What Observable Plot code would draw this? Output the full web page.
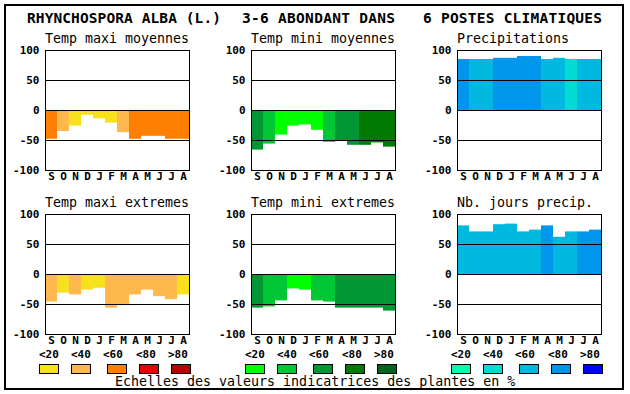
<!DOCTYPE html>
<html><head><meta charset="utf-8">
<script src="https://cdn.jsdelivr.net/npm/d3@7"></script>
<script src="https://cdn.jsdelivr.net/npm/@observablehq/plot@0.6"></script>
<style>
html,body{margin:0;padding:0;background:#fff;}
#wrap{position:relative;width:630px;height:394px;overflow:hidden;background:#fff;}
#wrap svg{position:absolute;overflow:visible;}
.box{position:absolute;left:4px;top:4px;width:620px;height:386px;border:2px solid #000;box-sizing:border-box;}
</style></head><body><div id="wrap"><div class="box"></div></div>
<script>
// ---- data ----
const months = ["S","O","N","D","J","F","M","A","M","J","J","A"];
const yTicks = [100, 50, 0, -50, -100];
const gridLevels = [50, 0, -50];
const classLabels = ["<20", "<40", "<60", "<80", ">80"];
const orangeScale = ["#f7e11c", "#ffb84d", "#ff8000", "#e60000", "#aa0a00"];
const greenScale  = ["#00ff00", "#00c834", "#009632", "#007a00", "#00641e"];
const blueScale   = ["#00ffae", "#00dcd2", "#00b8e0", "#0096eb", "#0000ff"];

const tempMaxiMoy      = [-48, -35, -26, -8, -14, -21, -37, -48, -43, -43, -48, -48];
const tempMaxiMoyClass = [3, 2, 1, 1, 1, 1, 2, 3, 3, 3, 3, 3];
const tempMiniMoy      = [-66, -56, -41, -26, -24, -33, -53, -51, -58, -58, -54, -61];
const tempMiniMoyClass = [3, 2, 1, 1, 1, 1, 2, 3, 3, 4, 4, 4];
const precip           = [85, 85, 85, 87, 87, 90, 90, 85, 87, 85, 85, 85];
const precipClass      = [4, 3, 3, 4, 4, 4, 4, 3, 3, 2, 3, 3];
const tempMaxiExt      = [-46, -31, -34, -26, -23, -56, -52, -34, -26, -37, -42, -34];
const tempMaxiExtClass = [2, 1, 2, 1, 1, 2, 2, 2, 2, 2, 2, 1];
const tempMiniExt      = [-56, -54, -44, -24, -26, -44, -46, -56, -56, -56, -56, -61];
const tempMiniExtClass = [3, 2, 2, 1, 1, 2, 2, 3, 3, 3, 3, 3];
const nbJours          = [81, 71, 71, 83, 84, 71, 74, 81, 62, 71, 71, 74];
const nbJoursClass     = [3, 3, 3, 3, 3, 3, 3, 4, 3, 3, 4, 4];

const headerParts = ["RHYNCHOSPORA ALBA (L.)", "3-6 ABONDANT DANS", "6 POSTES CLIMATIQUES"];
const panelTitles = ["Temp maxi moyennes", "Temp mini moyennes", "Precipitations",
                     "Temp maxi extremes", "Temp mini extremes", "Nb. jours precip."];
const caption = "Echelles des valeurs indicatrices des plantes en %";

// ---- layout ----
const wrap = document.getElementById("wrap");
const colLeft = [45, 251, 457];
const rowTop = [50, 214];
const frameW = 144, frameH = 120;
const mL = 45, mR = 6, mT = 10, mB = 16;
const monoFont = "'DejaVu Sans Mono', monospace";

const panels = [
  {values: tempMaxiMoy, classes: tempMaxiMoyClass, palette: orangeScale},
  {values: tempMiniMoy, classes: tempMiniMoyClass, palette: greenScale},
  {values: precip,      classes: precipClass,      palette: blueScale},
  {values: tempMaxiExt, classes: tempMaxiExtClass, palette: orangeScale},
  {values: tempMiniExt, classes: tempMiniExtClass, palette: greenScale},
  {values: nbJours,     classes: nbJoursClass,     palette: blueScale}
];

panels.forEach((p, k) => {
  const col = k % 3, row = Math.floor(k / 3);
  const data = p.values.map((v, i) => ({i, v, c: p.classes[i]}));
  const chart = Plot.plot({
    width: mL + frameW + mR,
    height: mT + frameH + mB,
    marginLeft: mL, marginRight: mR, marginTop: mT, marginBottom: mB,
    style: {fontFamily: monoFont, fontSize: "11px", fontWeight: "bold", color: "#000", background: "transparent"},
    x: {type: "band", domain: d3.range(12), padding: 0, label: null},
    y: {domain: [-100, 100], label: null},
    color: {type: "ordinal", domain: [1, 2, 3, 4, 5], range: p.palette},
    marks: [
      Plot.barY(data, {x: "i", y1: 0, y2: "v", fill: "c"}),
      Plot.ruleY(gridLevels, {stroke: "#000", strokeWidth: 1}),
      Plot.frame({stroke: "#000", strokeWidth: 1}),
      Plot.axisX({tickSize: 0, tickPadding: 2, tickFormat: i => months[i], fill: "#000", label: null}),
      Plot.axisY(yTicks, {tickSize: 0, tickPadding: 6, tickFormat: d => String(d), fill: "#000", label: null})
    ]
  });
  chart.style.left = (colLeft[col] - mL) + "px";
  chart.style.top = (rowTop[row] - mT) + "px";
  wrap.appendChild(chart);
});

// ---- overlay texts & legend ----
const svg = d3.select(wrap).append("svg")
  .attr("width", 630).attr("height", 394)
  .style("left", "0px").style("top", "0px")
  .style("pointer-events", "none");

const headerX = [27, 242, 423];
const headerLen = [194, 153, 179];
headerParts.forEach((t, i) => {
  svg.append("text").attr("x", headerX[i]).attr("y", 23)
    .attr("font-family", monoFont).attr("font-weight", "bold").attr("font-size", 14.5)
    .attr("textLength", headerLen[i]).attr("lengthAdjust", "spacing")
    .text(t);
});

panelTitles.forEach((t, k) => {
  const col = k % 3, row = Math.floor(k / 3);
  svg.append("text").attr("x", colLeft[col]).attr("y", row === 0 ? 43 : 207)
    .attr("font-family", monoFont).attr("font-size", 13.3)
    .text(t);
});

const legendLeft = [39, 245, 451];
const legendPalettes = [orangeScale, greenScale, blueScale];
legendLeft.forEach((gl, g) => {
  classLabels.forEach((lab, i) => {
    svg.append("text").attr("x", gl + 32 * i + (i >= 3 ? 1 : 0)).attr("y", 358)
      .attr("font-family", monoFont).attr("font-weight", "bold").attr("font-size", 11)
      .text(lab);
    svg.append("rect").attr("x", gl + 32 * i + (i >= 2 ? 4 : 0) + 0.5).attr("y", 364.5)
      .attr("width", 19).attr("height", 9)
      .attr("fill", legendPalettes[g][i]).attr("stroke", "#000").attr("stroke-width", 1);
  });
});

svg.append("text").attr("x", 115).attr("y", 386)
  .attr("font-family", monoFont).attr("font-size", 13.3)
  .text(caption);
</script>
</body></html>
